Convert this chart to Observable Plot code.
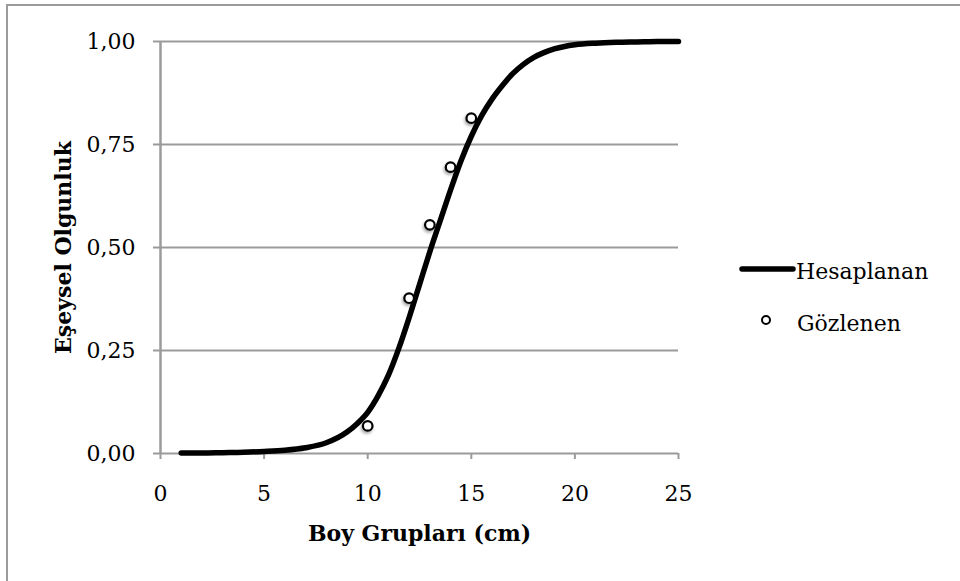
<!DOCTYPE html>
<html>
<head>
<meta charset="utf-8">
<script src="https://cdn.jsdelivr.net/npm/d3@7"></script>
<script src="https://cdn.jsdelivr.net/npm/@observablehq/plot@0.6"></script>
<style>
  html, body { margin: 0; padding: 0; background: #fff; }
  #wrap { position: relative; width: 960px; height: 581px; overflow: hidden; font-family: "DejaVu Serif", serif; }
  #frame { position: absolute; left: 6px; top: 4px; width: 1000px; height: 700px; border: 2px solid #9b9b9b; box-sizing: border-box; }
  #chart { position: absolute; left: 0; top: 0; }
  #legend { position: absolute; left: 730px; top: 245px; }
</style>
</head>
<body>
<div id="wrap">
  <div id="frame"></div>
  <div id="chart"></div>
  <div id="legend"></div>
</div>
<script>
// Observed maturity ratio per length group
const observedLength = [10, 12, 13, 14, 15];
const observedMaturity = [0.067, 0.377, 0.555, 0.695, 0.814];

// Fitted maturity curve
const fittedLength = [1, 2, 3, 4, 5, 6, 7, 8, 9, 9.5, 10, 10.5, 11, 11.5, 12, 12.5, 13, 13.5, 14, 14.5, 15, 15.5, 16, 16.5, 17, 17.5, 18, 18.5, 19, 19.5, 20, 21, 22, 23, 24, 25];
const fittedMaturity = [0.001, 0.001, 0.002, 0.003, 0.005, 0.008, 0.014, 0.026, 0.052, 0.073, 0.10, 0.14, 0.19, 0.255, 0.33, 0.41, 0.49, 0.565, 0.64, 0.71, 0.77, 0.82, 0.86, 0.893, 0.922, 0.944, 0.961, 0.973, 0.982, 0.988, 0.992, 0.996, 0.998, 0.999, 1.0, 1.0];

const xTicks = [0, 5, 10, 15, 20, 25];
const yTicks = [0, 0.25, 0.5, 0.75, 1];

const xTitle = "Boy Grupları (cm)";
const yTitle = "Eşeysel Olgunluk";
const fittedName = "Hesaplanan";
const observedName = "Gözlenen";

const observed = observedLength.map((x, i) => ({x, y: observedMaturity[i]}));
const fitted = fittedLength.map((x, i) => ({x, y: fittedMaturity[i]}));

const gray = "#9b9b9b";
const commaFmt = d => d3.format(".2f")(d).replace(".", ",");

const chart = Plot.plot({
  width: 960,
  height: 581,
  marginLeft: 160,
  marginRight: 282,
  marginTop: 41,
  marginBottom: 128,
  style: {fontFamily: "DejaVu Serif, serif", fontSize: "22px", color: "#000", background: "transparent"},
  x: {domain: [0, 25]},
  y: {domain: [0, 1]},
  marks: [
    Plot.ruleY(yTicks, {stroke: gray, strokeWidth: 2}),
    Plot.ruleX([0], {y1: 0, y2: 1, stroke: gray, strokeWidth: 2.5}),
    Plot.axisY(yTicks, {tickSize: 7, tickPadding: 18, stroke: gray, strokeWidth: 2, fill: "#000", tickFormat: commaFmt, label: null}),
    Plot.axisX(xTicks, {tickSize: 6, tickPadding: 26, stroke: gray, strokeWidth: 2, fill: "#000", tickFormat: d3.format("d"), label: null}),
    Plot.line(fitted, {x: "x", y: "y", curve: "monotone-x", stroke: "#000", strokeWidth: 5.5, strokeLinecap: "round"}),
    Plot.dot(observed, {x: "x", y: "y", r: 4.8, fill: "#fff", stroke: "#000", strokeWidth: 2.2}),
    Plot.text([xTitle], {frameAnchor: "bottom", dy: 87, fontWeight: "bold", fill: "#000"}),
    Plot.text([yTitle], {frameAnchor: "left", textAnchor: "middle", dx: -97, rotate: -90, fontWeight: "bold", fill: "#000"})
  ]
});
chart.querySelectorAll('[aria-label="dot"] circle').forEach(c => {
  c.style.filter = "drop-shadow(-1px 2px 1.5px rgba(0,0,0,0.35))";
});
document.getElementById("chart").appendChild(chart);

// Legend
const legend = d3.select("#legend").append("svg")
  .attr("width", 230).attr("height", 110)
  .style("font-family", "DejaVu Serif, serif").style("font-size", "22px");
legend.append("line")
  .attr("x1", 12).attr("x2", 63).attr("y1", 24).attr("y2", 24)
  .attr("stroke", "#000").attr("stroke-width", 5.5).attr("stroke-linecap", "round");
legend.append("text").attr("x", 66).attr("y", 34).text(fittedName);
legend.append("circle")
  .attr("cx", 36).attr("cy", 75).attr("r", 4)
  .attr("fill", "#fff").attr("stroke", "#000").attr("stroke-width", 2);
legend.append("text").attr("x", 67).attr("y", 86).text(observedName);
</script>
</body>
</html>
